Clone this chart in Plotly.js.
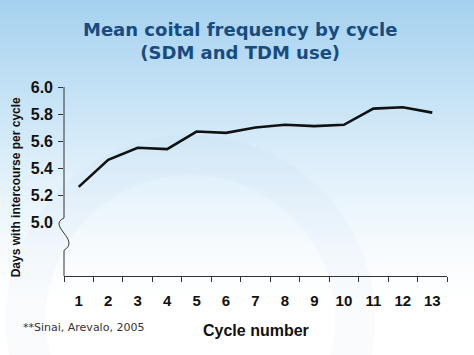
<!DOCTYPE html>
<html>
<head>
<meta charset="utf-8">
<script src="https://cdn.plot.ly/plotly-3.0.1.min.js"></script>
<style>
html,body{margin:0;padding:0;background:#fff;}
#chart{width:474px;height:355px;background:linear-gradient(to bottom,#a5d1ef 0%,#c3e1f5 25%,#e2f1fb 50%,#f7fbfe 70%,#ffffff 85%);}
</style>
</head>
<body>
<div id="chart"></div>
<script>
const cycles = ['1','2','3','4','5','6','7','8','9','10','11','12','13'];
const meanDays = [5.26, 5.46, 5.55, 5.54, 5.67, 5.66, 5.70, 5.72, 5.71, 5.72, 5.84, 5.85, 5.81];
const yLabelVals = [5.0, 5.2, 5.4, 5.6, 5.8, 6.0];
const yLabelText = ['5.0', '5.2', '5.4', '5.6', '5.8', '6.0'];
const yTickVals = [5.2, 5.4, 5.6, 5.8, 6.0];

const titleText = 'Mean coital frequency by cycle<br>(SDM and TDM use)';
const yTitle = 'Days with intercourse per cycle';
const xTitle = 'Cycle number';
const footnote = '**Sinai, Arevalo, 2005';

const tickFont = {family: 'Liberation Sans, Arial, sans-serif', size: 15, color: '#111'};

const data = [{
  x: cycles, y: meanDays, type: 'scatter', mode: 'lines',
  line: {color: '#111111', width: 2.6}, hoverinfo: 'skip', showlegend: false
}];

const layout = {
  width: 474, height: 355,
  margin: {l: 64, r: 27, t: 87, b: 79},
  paper_bgcolor: 'rgba(0,0,0,0)', plot_bgcolor: 'rgba(0,0,0,0)',
  showlegend: false,
  xaxis: {
    type: 'category', range: [-0.5, 12.5],
    tickson: 'boundaries', ticks: 'outside', ticklen: 5, tickcolor: '#333', tickwidth: 1,
    showline: true, linecolor: '#333', linewidth: 1,
    showgrid: false, zeroline: false,
    tickfont: Object.assign({}, tickFont, {weight: 'bold'}),
    ticklabelstandoff: 11
  },
  yaxis: {
    range: [4.6, 6.0], tickvals: yLabelVals, ticktext: yLabelText,
    ticks: '', showline: false, showgrid: false, zeroline: false,
    tickfont: Object.assign({}, tickFont, {size: 16, weight: 'bold'}),
    ticklabelstandoff: 10
  },
  yaxis2: {
    overlaying: 'y', side: 'left', range: [4.6, 6.0], tickvals: yTickVals,
    ticks: 'outside', ticklen: 5, tickcolor: '#333', tickwidth: 1,
    showticklabels: false, showline: false, showgrid: false, zeroline: false
  },
  shapes: [
    {type: 'circle', xref: 'paper', yref: 'paper', x0: -0.10, x1: 0.76, y0: -1.10, y1: 0.64,
     line: {color: 'rgba(150,190,222,0.06)', width: 40}, layer: 'below'},
    {type: 'path', xref: 'paper', yref: 'y',
     path: 'M0,6.0 L0,5.03 C-0.045,4.97 0.045,4.87 0,4.79 L0,4.6',
     line: {color: '#333', width: 1}}
  ],
  annotations: [
    {text: '<b>' + titleText + '</b>', xref: 'paper', yref: 'paper', x: 0.46, y: 1.245,
     xanchor: 'center', yanchor: 'middle', showarrow: false,
     font: {family: 'DejaVu Sans, Verdana, sans-serif', size: 18, color: '#184c80'}},
    {text: '<b>' + yTitle + '</b>', xref: 'paper', yref: 'paper', x: -0.125, y: 0.47,
     xanchor: 'center', yanchor: 'middle', textangle: -90, showarrow: false,
     font: {family: 'Liberation Sans, Arial, sans-serif', size: 12, color: '#111'}},
    {text: '<b>' + xTitle + '</b>', xref: 'paper', yref: 'paper', x: 0.5, y: -0.291,
     xanchor: 'center', yanchor: 'middle', showarrow: false,
     font: {family: 'Liberation Sans, Arial, sans-serif', size: 16, color: '#111'}},
    {text: footnote, xref: 'paper', yref: 'paper', x: -0.112, y: -0.275,
     xanchor: 'left', yanchor: 'middle', showarrow: false,
     font: {family: 'DejaVu Sans, Verdana, sans-serif', size: 11, color: '#333'}}
  ]
};

data.push({x: [cycles[0]], y: [meanDays[0]], yaxis: 'y2', type: 'scatter', mode: 'markers',
  marker: {opacity: 0}, hoverinfo: 'skip', showlegend: false});

Plotly.newPlot('chart', data, layout, {displayModeBar: false, staticPlot: true});
</script>
</body>
</html>
